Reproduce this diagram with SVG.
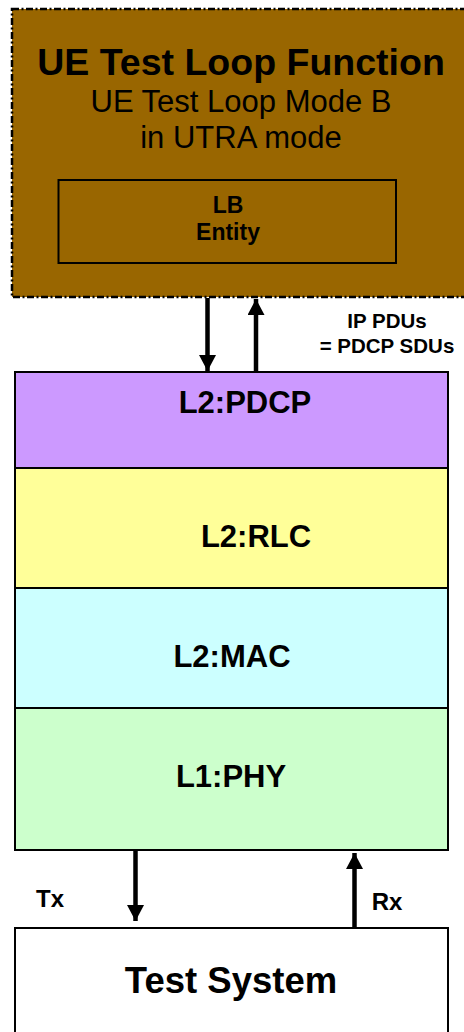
<svg xmlns="http://www.w3.org/2000/svg" width="464" height="1032" viewBox="0 0 464 1032">
  <style>
    .t { font-family: "Liberation Sans", Arial, sans-serif; fill: #000; text-anchor: middle; }
    .b { font-weight: bold; }
    .layer { stroke: #000; stroke-width: 2; }
    .shaft { stroke: #000; stroke-width: 4.5; fill: none; }
  </style>
  <defs>
    <marker id="head" markerUnits="userSpaceOnUse" markerWidth="18" markerHeight="18" refX="16" refY="8.5" orient="auto">
      <path d="M0,0 L16,8.5 L0,17 Z" fill="#000"/>
    </marker>
  </defs>

  <rect width="464" height="1032" fill="#fff"/>

  <!-- UE test loop function block -->
  <g id="ue-test-loop">
    <rect x="12" y="9" width="462" height="288" fill="#996600" stroke="#000" stroke-width="2.5" stroke-dasharray="7 2.5 2 2.5"/>
    <text class="t b" x="241" y="75" font-size="37.5">UE Test Loop Function</text>
    <text class="t" x="241" y="112" font-size="31">UE Test Loop Mode B</text>
    <text class="t" x="241" y="148" font-size="31">in UTRA mode</text>
  </g>

  <g id="lb-entity">
    <rect x="58.5" y="180" width="337.5" height="83" fill="none" stroke="#000" stroke-width="2"/>
    <text class="t b" x="228" y="212.5" font-size="23">LB</text>
    <text class="t b" x="228" y="240" font-size="23">Entity</text>
  </g>

  <!-- protocol stack -->
  <g id="pdcp">
    <rect class="layer" x="15" y="372" width="433" height="96" fill="#CC99FF"/>
    <text class="t b" x="245" y="413" font-size="31">L2:PDCP</text>
  </g>
  <g id="rlc">
    <rect class="layer" x="15" y="468" width="433" height="120" fill="#FFFF99"/>
    <text class="t b" x="256" y="547" font-size="31">L2:RLC</text>
  </g>
  <g id="mac">
    <rect class="layer" x="15" y="588" width="433" height="120" fill="#CCFFFF"/>
    <text class="t b" x="232" y="667" font-size="31">L2:MAC</text>
  </g>
  <g id="phy">
    <rect class="layer" x="15" y="708" width="433" height="142" fill="#CCFFCC"/>
    <text class="t b" x="231" y="787" font-size="31">L1:PHY</text>
  </g>

  <g id="test-system">
    <rect class="layer" x="15" y="928" width="433" height="120" fill="#fff"/>
    <text class="t b" x="231" y="993" font-size="36.5">Test System</text>
  </g>

  <!-- connectors -->
  <g id="connectors">
    <line class="shaft" x1="207.5" y1="298" x2="207.5" y2="371" marker-end="url(#head)"/>
    <line class="shaft" x1="256" y1="371" x2="256" y2="299" marker-end="url(#head)"/>
    <line class="shaft" x1="135.5" y1="850" x2="135.5" y2="921" marker-end="url(#head)"/>
    <line class="shaft" x1="354.5" y1="927" x2="354.5" y2="853" marker-end="url(#head)"/>
  </g>

  <g id="labels">
    <text class="t b" x="387" y="328" font-size="20.5">IP PDUs</text>
    <text class="t b" x="387" y="353" font-size="20.5">= PDCP SDUs</text>
    <text class="t b" x="50" y="907" font-size="24">Tx</text>
    <text class="t b" x="387" y="910" font-size="24">Rx</text>
  </g>
</svg>
